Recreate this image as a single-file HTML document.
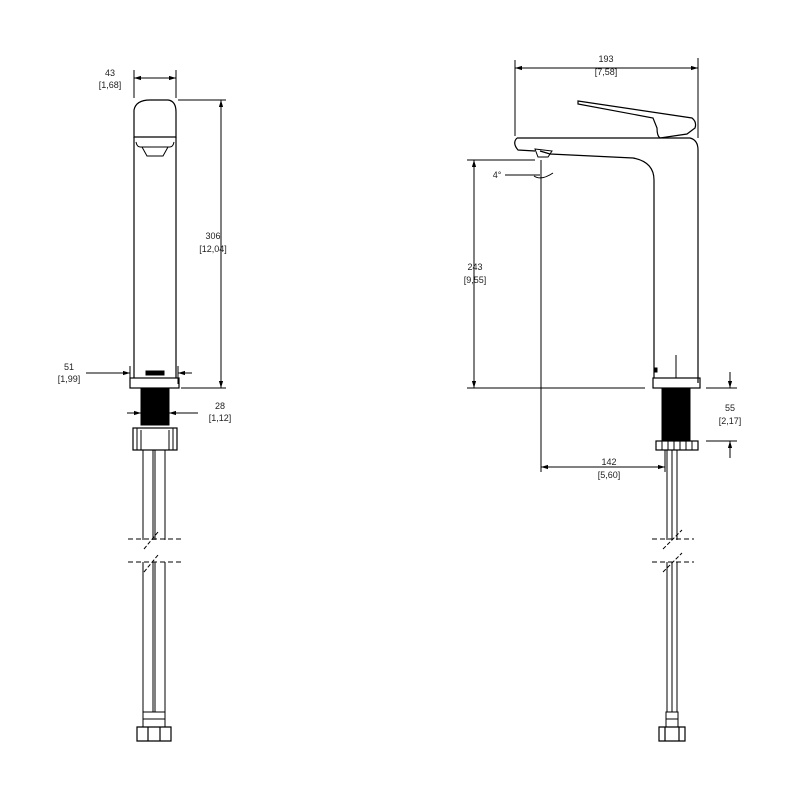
<!DOCTYPE html>
<html><head><style>html,body{margin:0;padding:0;background:#fff}svg{display:block}text{font-family:"Liberation Sans",sans-serif;font-size:9px;fill:#222}</style></head>
<body>
<svg width="800" height="800" viewBox="0 0 800 800" xmlns="http://www.w3.org/2000/svg">
<defs><marker id="a" viewBox="0 0 10 10" refX="10" refY="5" markerWidth="7" markerHeight="7" orient="auto-start-reverse"><path d="M0,2 L10,5 L0,8 z" fill="#000"/></marker></defs>
<g stroke="#000" fill="none" stroke-width="1">
<!-- LEFT VIEW -->
<path d="M134,110 Q136,100 150,100 L168,100 Q176,101 176,112 L176,137 L134,137 Z" stroke-width="1.2"/>
<path d="M134,137 L134,378 M176,137 L176,378" stroke-width="1.2"/>
<path d="M136,142 Q137,147 140,147 L170,147 Q173,147 174,142" />
<path d="M142,147 L147,156 L163,156 L168,147" />
<rect x="146" y="371" width="18" height="4" fill="#000"/>
<rect x="130" y="378" width="49" height="10" stroke-width="1.2"/>
<rect x="141" y="388" width="28" height="37" fill="#000"/>
<rect x="133" y="428" width="44" height="22" stroke-width="1.2"/>
<path d="M137,428 V450 M173,428 V450 M141,430 V450 M169,430 V450"/>
<path d="M143,450 V540 M153,450 V540 M155,450 V540 M165,450 V540 M143,562 V712 M153,562 V712 M155,562 V712 M165,562 V712"/>
<path d="M143,712 H165 V727 H143 Z M143,719 H165"/>
<path d="M137,727 H171 V741 H137 Z M148,727 V741 M160,727 V741" stroke-width="1.2"/>
<path d="M128,539 H182 M128,562 H182" stroke-dasharray="5,3"/>
<path d="M144,549 L158,532 M144,572 L158,555" stroke-dasharray="4,2"/>
<!-- left dims -->
<path d="M134,70 V98 M176,70 V98"/>
<path d="M134,78 H176" marker-start="url(#a)" marker-end="url(#a)"/>
<path d="M178,100 H226 M181,388 H226"/>
<path d="M221,100 V388" marker-start="url(#a)" marker-end="url(#a)"/>
<path d="M130,366 V384 M178,366 V384"/>
<path d="M86,373 H130" marker-end="url(#a)"/>
<path d="M192,373 H178" marker-end="url(#a)"/>
<path d="M127,413 H141" marker-end="url(#a)"/>
<path d="M198,413 H169" marker-end="url(#a)"/>
<!-- RIGHT VIEW -->
<path d="M517,138 L690,138 Q698,140 698,150 L698,383" stroke-width="1.2"/>
<path d="M517,138 Q512,143 518,150 L535,151" stroke-width="1.2"/>
<path d="M540,151 L550,154 L633,158 Q654,162 654,180 L654,378" stroke-width="1.2"/>
<path d="M535,149 L552,151 L548,157 L538,157 Z"/>
<path d="M578,101 L692,118 Q697,122 695,128 L687,134 L660,138 Q657,136 657,128 L653,118 L578,104 Z" stroke-width="1.2"/>
<rect x="654" y="368" width="3" height="4" fill="#000"/>
<path d="M676,355 V378"/>
<rect x="653" y="378" width="47" height="10" stroke-width="1.2"/>
<rect x="662" y="388" width="28" height="52" fill="#000"/>
<rect x="656" y="441" width="42" height="9" stroke-width="1.2"/>
<path d="M662,441 V450 M668,441 V450 M674,441 V450 M680,441 V450 M686,441 V450 M692,441 V450"/>
<path d="M667,450 V540 M672,450 V540 M677,450 V540 M667,562 V712 M672,562 V712 M677,562 V712"/>
<path d="M666,712 H678 V727 H666 Z M666,719 H678"/>
<path d="M659,727 H685 V741 H659 Z M665,727 V741 M679,727 V741" stroke-width="1.2"/>
<path d="M652,539 H694 M652,562 H694" stroke-dasharray="5,3"/>
<path d="M663,549 L682,530 M663,572 L682,553" stroke-dasharray="4,2"/>
<!-- right dims -->
<path d="M515,60 V136 M698,58 V138"/>
<path d="M515,68 H698" marker-start="url(#a)" marker-end="url(#a)"/>
<path d="M467,160 H535"/>
<path d="M474,160 V388" marker-start="url(#a)" marker-end="url(#a)"/>
<path d="M467,388 H645 M706,388 H737 M706,441 H737"/>
<path d="M541,160 V472"/>
<path d="M505,175 H540"/>
<path d="M534,176 Q541,181 553,173" />
<path d="M541,467 H665" marker-start="url(#a)" marker-end="url(#a)"/>
<path d="M665,450 V472"/>
<path d="M730,372 V388" marker-end="url(#a)"/>
<path d="M730,458 V441" marker-end="url(#a)"/>
</g>
<g text-anchor="middle">
<text x="110" y="76">43</text><text x="110" y="88">[1,68]</text>
<text x="213" y="239">306</text><text x="213" y="252">[12,04]</text>
<text x="69" y="370">51</text><text x="69" y="382">[1,99]</text>
<text x="220" y="409">28</text><text x="220" y="421">[1,12]</text>
<text x="606" y="62">193</text><text x="606" y="75">[7,58]</text>
<text x="475" y="270">243</text><text x="475" y="283">[9,55]</text>
<text x="497" y="178">4°</text>
<text x="609" y="465">142</text><text x="609" y="478">[5,60]</text>
<text x="730" y="411">55</text><text x="730" y="424">[2,17]</text>
</g>
</svg>
</body></html>
